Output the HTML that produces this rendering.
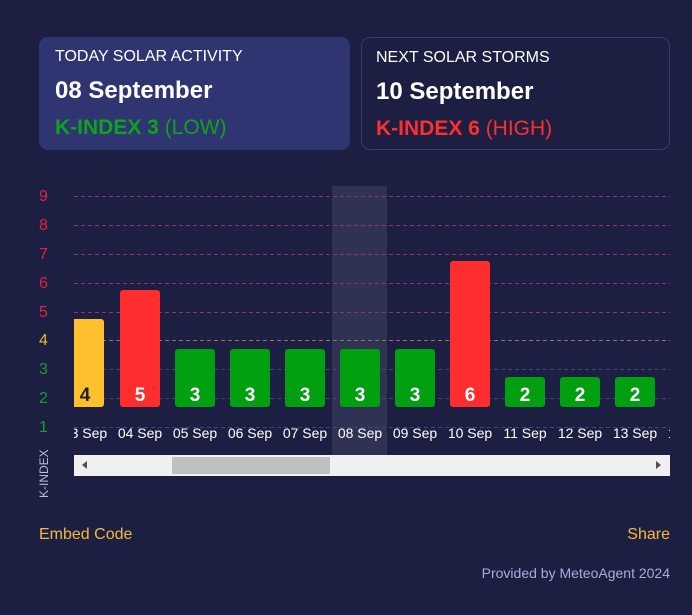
<!DOCTYPE html>
<html><head><style>
body{margin:0;width:692px;height:615px;background:#1c1f42;font-family:"Liberation Sans",sans-serif;position:relative;overflow:hidden}
.card{position:absolute;top:37px;height:113px;border-radius:9px;box-sizing:border-box;padding:0 16px}
.t1{position:absolute;top:11px;font-size:16px;color:#fff}
.t2{position:absolute;top:40px;font-size:24px;font-weight:bold;color:#fff}
.t3{position:absolute;top:79px;font-size:21px}
.a{position:absolute;font-size:16px}
</style></head><body>
<div class="card" style="left:39px;width:311px;background:#2f3570">
<div class="t1">TODAY SOLAR ACTIVITY</div><div class="t2">08 September</div>
<div class="t3" style="color:#0ea21e"><b>K-INDEX 3</b> (LOW)</div></div>
<div class="card" style="left:361px;width:309px;border:1px solid #373c6a">
<div class="t1" style="left:14px">NEXT SOLAR STORMS</div><div class="t2" style="left:14px">10 September</div>
<div class="t3" style="color:#ff2d2d;left:14px"><b>K-INDEX 6</b> (HIGH)</div></div>
<svg width="692" height="615" style="position:absolute;left:0;top:0" font-family="Liberation Sans">
<rect x="332" y="186" width="55" height="269" fill="#2f3253"/>
<g stroke-dasharray="4,3" stroke-width="1">
<line x1="74" x2="670" y1="196.5" y2="196.5" stroke="#8a3a5e"/>
<line x1="74" x2="670" y1="225.5" y2="225.5" stroke="#8a3a5e"/>
<line x1="74" x2="670" y1="254.5" y2="254.5" stroke="#8a3a5e"/>
<line x1="74" x2="670" y1="283.5" y2="283.5" stroke="#8a3a5e"/>
<line x1="74" x2="670" y1="312.5" y2="312.5" stroke="#8a3a5e"/>
<line x1="74" x2="670" y1="340.5" y2="340.5" stroke="#8c7a55"/>
<line x1="74" x2="670" y1="369.5" y2="369.5" stroke="#3c4a78"/>
<line x1="74" x2="670" y1="398.5" y2="398.5" stroke="#3c4a78"/>
<line x1="74" x2="670" y1="427.5" y2="427.5" stroke="#3c4a78"/>
</g>
<g>
<rect x="60" y="319" width="44" height="88" rx="3" fill="#ffc030"/>
<rect x="120" y="290" width="40" height="117" rx="3" fill="#ff2d2d"/>
<rect x="175" y="349" width="40" height="58" rx="3" fill="#00a010"/>
<rect x="230" y="349" width="40" height="58" rx="3" fill="#00a010"/>
<rect x="285" y="349" width="40" height="58" rx="3" fill="#00a010"/>
<rect x="340" y="349" width="40" height="58" rx="3" fill="#00a010"/>
<rect x="395" y="349" width="40" height="58" rx="3" fill="#00a010"/>
<rect x="450" y="261" width="40" height="146" rx="3" fill="#ff2d2d"/>
<rect x="505" y="377" width="40" height="30" rx="3" fill="#00a010"/>
<rect x="560" y="377" width="40" height="30" rx="3" fill="#00a010"/>
<rect x="615" y="377" width="40" height="30" rx="3" fill="#00a010"/>
</g>
<rect x="0" y="180" width="74" height="240" fill="#1c1f42"/>
<g font-size="19" font-weight="bold" text-anchor="middle" fill="#fff">
<text x="85" y="401" fill="#222">4</text><text x="140" y="401">5</text><text x="195" y="401">3</text>
<text x="250" y="401">3</text><text x="305" y="401">3</text><text x="360" y="401">3</text>
<text x="415" y="401">3</text><text x="470" y="401">6</text><text x="525" y="401">2</text>
<text x="580" y="401">2</text><text x="635" y="401">2</text></g>
<g font-size="14" text-anchor="middle" fill="#fff">
<text x="85" y="438">03 Sep</text><text x="140" y="438">04 Sep</text><text x="195" y="438">05 Sep</text>
<text x="250" y="438">06 Sep</text><text x="305" y="438">07 Sep</text><text x="360" y="438">08 Sep</text>
<text x="415" y="438">09 Sep</text><text x="470" y="438">10 Sep</text><text x="525" y="438">11 Sep</text>
<text x="580" y="438">12 Sep</text><text x="635" y="438">13 Sep</text><text x="690" y="438">14 Sep</text></g>
<rect x="0" y="420" width="74" height="30" fill="#1c1f42"/>
<rect x="670" y="420" width="22" height="30" fill="#1c1f42"/>
<g font-size="16">
<text x="39" y="201" fill="#e0243c">9</text><text x="39" y="230" fill="#e0243c">8</text>
<text x="39" y="259" fill="#e0243c">7</text><text x="39" y="288" fill="#e0243c">6</text>
<text x="39" y="317" fill="#e0243c">5</text><text x="39" y="345" fill="#f0b830">4</text>
<text x="39" y="374" fill="#14a02a">3</text><text x="39" y="403" fill="#14a02a">2</text>
<text x="39" y="432" fill="#14a02a">1</text></g>
<text transform="translate(48,498) rotate(-90)" font-size="12" fill="#b8bcd8">K-INDEX</text>
<rect x="74" y="455" width="596" height="21" fill="#f0f0f0"/>
<rect x="172" y="457" width="158" height="17" fill="#c0c0c0"/>
<path d="M82 465 L87 461 L87 469 Z" fill="#505050"/>
<path d="M661 465 L656 461 L656 469 Z" fill="#505050"/>
</svg>
<div class="a" style="left:39px;top:526px;color:#f5b83a">Embed Code</div>
<div class="a" style="right:22px;top:526px;color:#f5b83a">Share</div>
<div class="a" style="right:22px;top:565px;font-size:14px;color:#a8acd8">Provided by MeteoAgent 2024</div>
</body></html>
